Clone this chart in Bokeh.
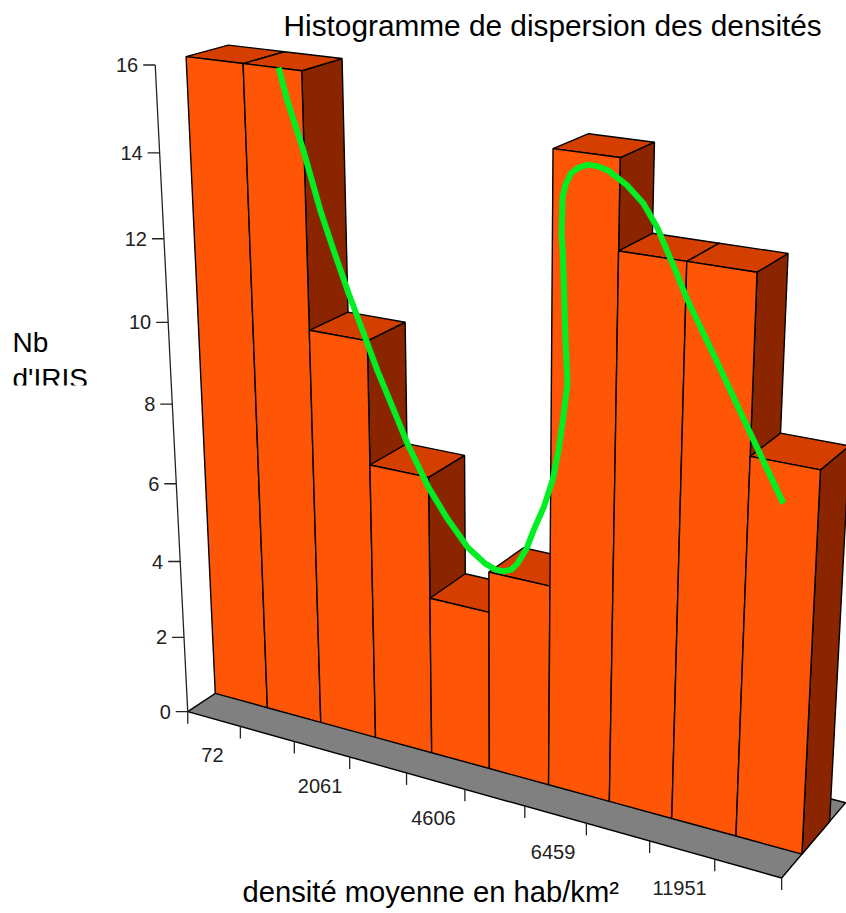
import numpy as np
from bokeh.plotting import figure
from bokeh.embed import file_html
from bokeh.resources import INLINE
from bokeh.core.properties import value

bin_counts = [16, 16, 10, 7, 4, 5, 15, 13, 13, 9]
y_ticks = [0, 2, 4, 6, 8, 10, 12, 14, 16]
x_ticks = [0, 1, 2, 3, 4, 5, 6, 7, 8, 9, 10]
x_label_bins = [1, 3, 5, 7, 9]
x_labels = ["72", "2061", "4606", "6459", "11951"]
curve_bin = [1.61, 1.74, 1.99, 2.25, 2.46, 2.70, 2.94, 3.16, 3.41, 3.65, 4.00, 4.31, 4.65, 4.94, 5.11, 5.24, 5.37, 5.47,
             5.62, 5.73, 5.89, 6.03, 6.12, 6.19, 6.25, 6.21, 6.18, 6.16, 6.14, 6.15, 6.19, 6.27, 6.39, 6.53, 6.68, 6.83,
             7.11, 7.35, 7.56, 7.84, 8.03, 8.49, 8.99, 9.50]
curve_count = [16.01, 15.29, 14.20, 12.88, 12.00, 11.04, 10.16, 9.34, 8.52, 7.72, 6.75, 6.09, 5.49, 5.19, 5.10, 5.10, 5.19, 5.37,
               5.79, 6.26, 6.86, 7.55, 8.28, 9.07, 9.86, 10.99, 12.10, 12.82, 13.19, 13.98, 14.25, 14.52, 14.67, 14.76, 14.75, 14.69,
               14.43, 14.10, 13.63, 12.77, 12.16, 10.91, 9.51, 8.10]

FONT = value("Liberation Sans")
F = -0.7   # depth of the floor's front edge, in bar depths

# camera of the 3D view, fitted on landmarks of the picture
calib = [
 (0,0,F,188,711),(1,0,F,239,726),(2,0,F,293,740),(3,0,F,349,756),(4,0,F,405,773),(10,0,F,780,877),
 (0,2,F,183,637),(0,4,F,179,561),(0,6,F,175,484),(0,8,F,171,404),(0,10,F,167,321),(0,12,F,163,238),(0,14,F,159,151),(0,16,F,155,65),
 (0,0,0,216,693),(1,0,0,268,707),(2,0,0,321,722),(3,0,0,376,737),(4,0,0,432,753),(10,0,0,801,855),(10,0,1,830,820),
 (0,16,0,188,57),(1,16,0,244,63),(2,16,0,303,71),(0,16,1,228,44),(1,16,1,279,52),(2,16,1,342,58),
 (6,15,0,553,148),(7,15,0,621,157),(6,15,1,587,133),(7,15,1,654,141),(9,13,0,757,272),(9,13,1,787,253),
]
A = []; b = []
for X, Y, Z, x, y in calib:
    A.append([X,Y,Z,1,0,0,0,0,-x*X,-x*Y,-x*Z]); b.append(x)
    A.append([0,0,0,0,X,Y,Z,1,-y*X,-y*Y,-y*Z]); b.append(y)
sol = np.linalg.lstsq(np.array(A, float), np.array(b, float), rcond=None)[0]
P = np.append(sol, 1).reshape(3, 4)

def proj(X, Y, Z):
    v = P @ np.array([X, Y, Z, 1.0])
    return v[0] / v[2], v[1] / v[2]

def poly(pts):
    q = [proj(*a) for a in pts]
    return [a[0] for a in q], [a[1] for a in q]

p = figure(width=846, height=913, x_range=(0, 846), y_range=(913, 0),
           toolbar_location=None, output_backend="svg", min_border=0)
p.axis.visible = False
p.grid.visible = False
p.outline_line_color = None

xs = []; ys = []; cs = []
def add(pts, c):
    a, b_ = poly(pts)
    xs.append(a); ys.append(b_); cs.append(c)

add([(0,0,F),(10,0,F),(10,0,1.6),(0,0,1.6)], "#808080")
for i, h in enumerate(bin_counts):
    add([(i+1,h,0),(i+1,h,1),(i+1,0,1),(i+1,0,0)], "#8B2500")
    add([(i,h,0),(i+1,h,0),(i+1,h,1),(i,h,1)], "#D43F00")
    add([(i,0,0),(i+1,0,0),(i+1,h,0),(i,h,0)], "#FF5506")
p.patches(xs, ys, fill_color=cs, line_color="black", line_width=1.4)

# green curve lies in the plane of the bars' fronts
cx, cy = poly([(u, c, 0) for u, c in zip(curve_bin, curve_count)])
p.line(cx, cy, line_color="#00EE22", line_width=6, line_join="round")

# value axis
ax, ay = poly([(0, h, F) for h in y_ticks])
p.line(ax, ay, line_color="#222222", line_width=1.3)
p.segment([x - 12 for x in ax], ay, ax, ay, line_color="#222222", line_width=1.3)
p.text([x - 17 for x in ax], ay, text=[str(t) for t in y_ticks], text_font=FONT, text_font_size="20px",
       text_color="#222222", text_align="right", text_baseline="middle")

# bin axis
bx, by = poly([(t, 0, F) for t in x_ticks])
p.segment(bx, by, bx, [y + 12 for y in by], line_color="#222222", line_width=1.3)
lx, ly = poly([(t, 0, F) for t in x_label_bins])
p.text([x - 27 - 0.9 * t for x, t in zip(lx, x_label_bins)], [y + 29 for y in ly], text=x_labels,
       text_font=FONT, text_font_size="20px", text_color="#222222", text_align="center", text_baseline="middle")

p.text([283], [25], text=["Histogramme de dispersion des densités"], text_font=FONT, text_font_size="29.8px",
       text_color="black", text_baseline="middle")
p.text([242], [891], text=["densité moyenne en hab/km²"], text_font=FONT, text_font_size="29.2px",
       text_color="black", text_baseline="middle")
p.text([12], [342], text=["Nb"], text_font=FONT, text_font_size="28px", text_color="black", text_baseline="middle")
p.text([12], [378], text=["d'IRIS"], text_font=FONT, text_font_size="28px", text_color="black", text_baseline="middle")
p.quad(left=[0], right=[100], top=[385], bottom=[402], fill_color="white", line_color=None)

open("out.html", "w").write(file_html(p, INLINE))
